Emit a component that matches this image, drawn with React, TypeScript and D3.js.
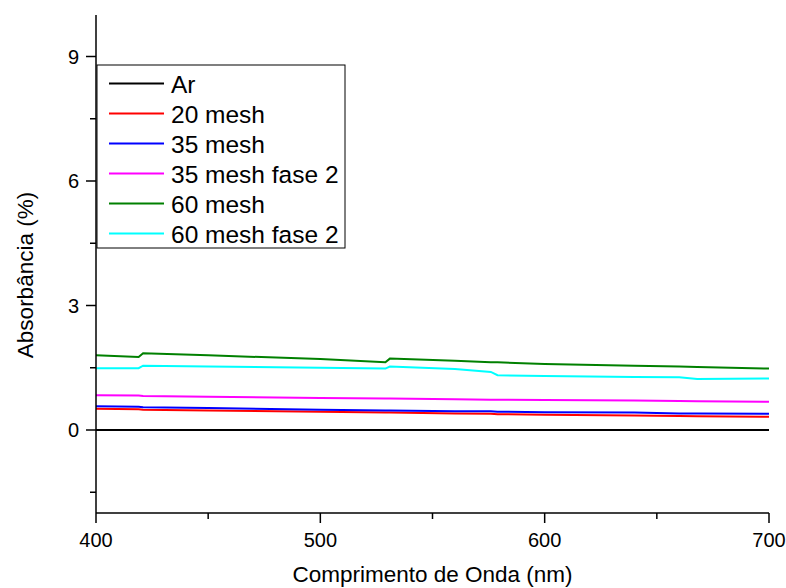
import React from 'react';
import * as d3 from 'd3';

// wavelength samples (nm)
const wavelengths = [400, 419, 421, 450, 500, 529, 531, 560, 576, 579, 600, 640, 660, 668, 700];

const seriesNames = ['Ar', '20 mesh', '35 mesh', '35 mesh fase 2', '60 mesh', '60 mesh fase 2'];
const seriesColors = ['#000000', '#ff0000', '#0000ff', '#ff00ff', '#008000', '#00ffff'];

const ar = [0, 0, 0, 0, 0, 0, 0, 0, 0, 0, 0, 0, 0, 0, 0];
const mesh20 = [0.51, 0.5, 0.49, 0.47, 0.44, 0.42, 0.42, 0.4, 0.39, 0.38, 0.37, 0.35, 0.34, 0.33, 0.32];
const mesh35 = [0.57, 0.56, 0.55, 0.53, 0.49, 0.47, 0.47, 0.45, 0.45, 0.44, 0.43, 0.42, 0.4, 0.4, 0.39];
const mesh35f2 = [0.84, 0.83, 0.82, 0.8, 0.77, 0.76, 0.76, 0.74, 0.73, 0.73, 0.72, 0.71, 0.7, 0.69, 0.68];
const mesh60 = [1.8, 1.76, 1.85, 1.8, 1.71, 1.63, 1.72, 1.67, 1.63, 1.63, 1.59, 1.55, 1.53, 1.52, 1.48];
const mesh60f2 = [1.49, 1.49, 1.55, 1.53, 1.5, 1.48, 1.53, 1.47, 1.4, 1.32, 1.3, 1.28, 1.27, 1.23, 1.24];

const seriesValues = [ar, mesh20, mesh35, mesh35f2, mesh60, mesh60f2];

const xTicks = [400, 500, 600, 700];
const xMinor = [450, 550, 650];
const yTicks = [0, 3, 6, 9];
const yMinor = [-1.5, 1.5, 4.5, 7.5];

const W = 786;
const H = 588;
const margin = { top: 15, right: 17, bottom: 75, left: 96 };
const font = 'Arial, "Liberation Sans", sans-serif';

export default function App() {
  const x = d3.scaleLinear().domain([400, 700]).range([margin.left, W - margin.right]);
  const y = d3.scaleLinear().domain([-2, 10]).range([H - margin.bottom, margin.top]);

  const line = d3
    .line<[number, number]>()
    .x((d) => x(d[0]))
    .y((d) => y(d[1]));

  const x0 = margin.left;
  const yBase = H - margin.bottom;

  // legend
  const lgX = 97;
  const lgY = 65;
  const lgW = 248;
  const lgH = 183;
  const rowH = 30;

  return (
    <svg
      width={W}
      height={H}
      style={{ position: 'absolute', left: 0, top: 0, background: '#fff' }}
      fontFamily={font}
    >
      <rect x={0} y={0} width={W} height={H} fill="#fff" />

      {/* series */}
      {seriesValues.map((vals, i) => (
        <path
          key={seriesNames[i]}
          d={line(wavelengths.map((w, j) => [w, vals[j]] as [number, number])) || ''}
          fill="none"
          stroke={seriesColors[i]}
          strokeWidth={2}
        />
      ))}

      {/* x axis */}
      <line x1={x0} x2={x(700)} y1={yBase} y2={yBase} stroke="#000" strokeWidth={1.5} />
      {xTicks.map((t) => (
        <g key={t}>
          <line x1={x(t)} x2={x(t)} y1={yBase} y2={yBase + 10} stroke="#000" strokeWidth={1.5} />
          <text x={x(t)} y={547} textAnchor="middle" fontSize={20}>
            {t}
          </text>
        </g>
      ))}
      {xMinor.map((t) => (
        <line key={t} x1={x(t)} x2={x(t)} y1={yBase} y2={yBase + 6} stroke="#000" strokeWidth={1.5} />
      ))}
      <text x={(x(400) + x(700)) / 2} y={582} textAnchor="middle" fontSize={22.5}>
        Comprimento de Onda (nm)
      </text>

      {/* y axis */}
      <line x1={x0} x2={x0} y1={margin.top} y2={yBase} stroke="#000" strokeWidth={1.5} />
      {yTicks.map((t) => (
        <g key={t}>
          <line x1={x0 - 10} x2={x0} y1={y(t)} y2={y(t)} stroke="#000" strokeWidth={1.5} />
          <text x={x0 - 17} y={y(t) + 7} textAnchor="end" fontSize={20}>
            {t}
          </text>
        </g>
      ))}
      {yMinor.map((t) => (
        <line key={t} x1={x0 - 6} x2={x0} y1={y(t)} y2={y(t)} stroke="#000" strokeWidth={1.5} />
      ))}
      <text transform="translate(33,275) rotate(-90)" textAnchor="middle" fontSize={22.5}>
        Absorbância (%)
      </text>

      {/* legend */}
      <rect x={lgX} y={lgY} width={lgW} height={lgH} fill="#fff" stroke="#000" strokeWidth={1} />
      {seriesNames.map((name, i) => (
        <g key={name}>
          <line
            x1={lgX + 12}
            x2={lgX + 67}
            y1={lgY + 18.5 + i * rowH}
            y2={lgY + 18.5 + i * rowH}
            stroke={seriesColors[i]}
            strokeWidth={2}
          />
          <text x={lgX + 74} y={lgY + 27.5 + i * rowH} fontSize={24.5}>
            {name}
          </text>
        </g>
      ))}
    </svg>
  );
}
